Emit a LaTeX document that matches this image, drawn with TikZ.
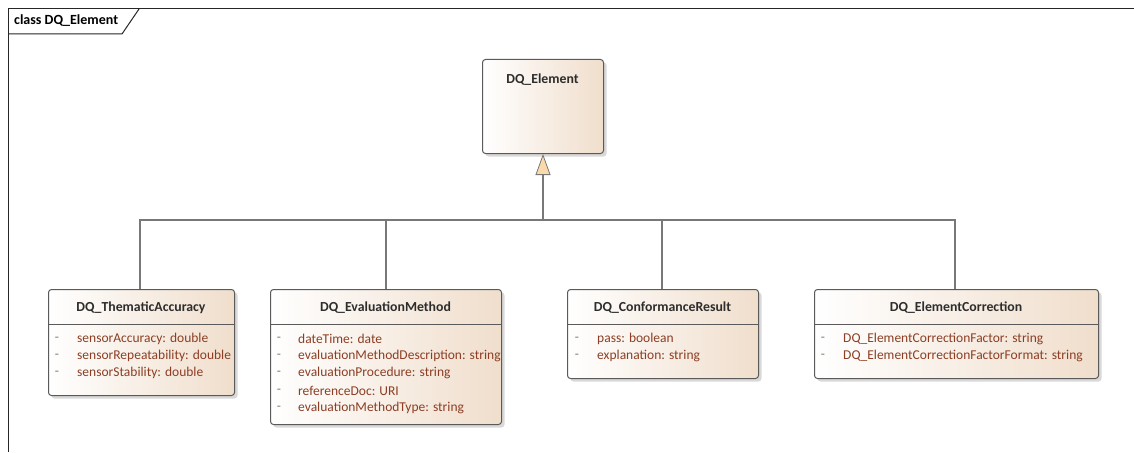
\documentclass[tikz,border=0pt]{standalone}
\usepackage{fontspec}
\setmainfont{Carlito}
\usetikzlibrary{arrows.meta,shadows}
\definecolor{tanR}{RGB}{240,222,204}
\definecolor{boxline}{RGB}{90,90,90}
\definecolor{attrc}{RGB}{140,62,36}
\definecolor{dashc}{RGB}{130,120,115}
\definecolor{connc}{RGB}{120,120,120}
\definecolor{trifill}{RGB}{250,218,170}
\definecolor{titlec}{RGB}{45,45,45}
\tikzset{
  classbox/.style={draw=boxline, line width=1pt, rounded corners=3pt,
    left color=white, right color=tanR, anchor=north west, inner sep=0pt,
    drop shadow={shadow xshift=3pt, shadow yshift=-3pt, fill=black!25, opacity=0.6}},
  ttl/.style={font=\fontsize{13.8}{16}\selectfont\bfseries, text=titlec, inner sep=0pt},
  attr/.style={font=\fontsize{13.5}{16}\selectfont, text=attrc, anchor=west, inner sep=0pt},
  dsh/.style={font=\fontsize{13.5}{16}\selectfont, text=dashc, inner sep=0pt},
  sepline/.style={draw=boxline, line width=0.9pt},
  conn/.style={draw=connc, line width=1.1pt},
  gen/.style={-{Triangle[width=15pt,length=21pt,fill=trifill,color=connc,line width=0.8pt]}},
  frame/.style={draw=black!85, line width=1pt},
}
\begin{document}
\begin{tikzpicture}[x=1pt,y=-1pt]
\useasboundingbox (0,0) rectangle (1134,452);
% frame
\draw[frame] (1134,9) -- (8,9) -- (8,452);
\coordinate (tabA) at (8,34);
\coordinate (tabB) at (122,34);
\coordinate (tabC) at (139,9);
\draw[frame] (tabA) -- (tabB) -- (tabC);
\node[font=\fontsize{14}{16}\selectfont\bfseries, anchor=west, inner sep=0pt] (frametitle) at (14,21) {class DQ\_Element};

% parent
\node[classbox, minimum width=121pt, minimum height=94pt] (el) at (482,59) {};
\node[ttl] (elt) at (542.5,80) {DQ\_Element};

% child 1
\node[classbox, minimum width=186pt, minimum height=106pt] (c1) at (48,289) {};
\node[ttl] (c1t) at (141,308) {DQ\_ThematicAccuracy};
\draw[sepline] (c1.west |- 0,324) -- (c1.east |- 0,324);
\node[dsh] at (57,339) {-};
\node[dsh] at (57,356) {-};
\node[dsh] at (57,373) {-};
\node[attr] at (77,339) {sensorAccuracy: double};
\node[attr] at (77,356) {sensorRepeatability: double};
\node[attr] at (77,373) {sensorStability: double};

% child 2
\node[classbox, minimum width=231pt, minimum height=135pt] (c2) at (270,289) {};
\node[ttl] (c2t) at (385.5,308) {DQ\_EvaluationMethod};
\draw[sepline] (c2.west |- 0,324) -- (c2.east |- 0,324);
\node[dsh] at (279,339) {-};
\node[dsh] at (279,356) {-};
\node[dsh] at (279,373) {-};
\node[dsh] at (279,391) {-};
\node[dsh] at (279,408) {-};
\node[attr] at (298,339) {dateTime: date};
\node[attr] at (298,356) {evaluationMethodDescription: string};
\node[attr] at (298,373) {evaluationProcedure: string};
\node[attr] at (298,391) {referenceDoc: URI};
\node[attr] at (298,408) {evaluationMethodType: string};

% child 3
\node[classbox, minimum width=191pt, minimum height=89pt] (c3) at (567,289) {};
\node[ttl] (c3t) at (662.5,308) {DQ\_ConformanceResult};
\draw[sepline] (c3.west |- 0,324) -- (c3.east |- 0,324);
\node[dsh] at (577,339) {-};
\node[dsh] at (577,356) {-};
\node[attr] at (597,339) {pass: boolean};
\node[attr] at (597,356) {explanation: string};

% child 4
\node[classbox, minimum width=284pt, minimum height=89pt] (c4) at (814,289) {};
\node[ttl] (c4t) at (956,308) {DQ\_ElementCorrection};
\draw[sepline] (c4.west |- 0,324) -- (c4.east |- 0,324);
\node[dsh] at (823,339) {-};
\node[dsh] at (823,356) {-};
\node[attr] at (843,339) {DQ\_ElementCorrectionFactor: string};
\node[attr] at (843,356) {DQ\_ElementCorrectionFactorFormat: string};

% connectors
\coordinate (junc) at (el.south |- 0,220);
\draw[conn] (c1.north -| 140,0) |- (junc);
\draw[conn] (c2.north -| 386,0) |- (junc);
\draw[conn] (c3.north -| 662,0) |- (junc);
\draw[conn] (c4.north -| 955,0) |- (junc);
\draw[conn,gen] (junc) -- (el.south);
\end{tikzpicture}
\end{document}
